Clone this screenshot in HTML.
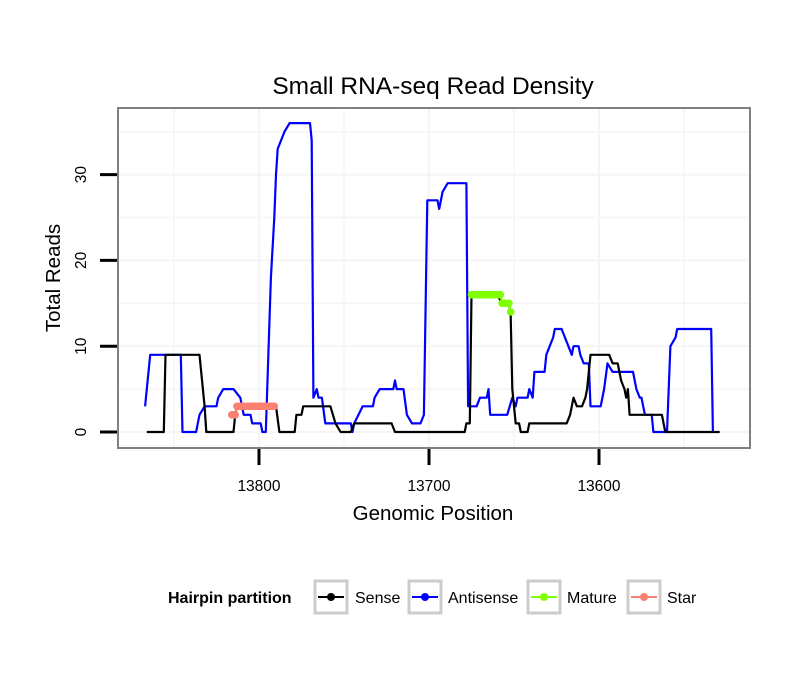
<!DOCTYPE html>
<html><head><meta charset="utf-8"><style>
body{margin:0;background:#fff;}
svg text{font-family:"Liberation Sans",sans-serif;}
</style></head><body>
<svg id="chart" width="810" height="690" xmlns="http://www.w3.org/2000/svg">
<rect width="810" height="690" fill="#fff"/>
<text x="433" y="94" font-size="24.5" text-anchor="middle">Small RNA-seq Read Density</text>
<g id="grid"></g>
<g id="series"></g>
<rect x="118" y="108" width="632" height="340" fill="none" stroke="#808080" stroke-width="2"/>
<g id="axes"></g>
<text x="433" y="520" font-size="20.5" text-anchor="middle">Genomic Position</text>
<text transform="translate(60,278) rotate(-90)" font-size="20.5" text-anchor="middle">Total Reads</text>
<g>
<text x="168" y="603" font-size="16" font-weight="bold">Hairpin partition</text>
<g><rect x="315" y="581" width="32" height="32" fill="#fff" stroke="#ccc" stroke-width="3"/><line x1="318" y1="597" x2="344" y2="597" stroke="#000" stroke-width="2"/><circle cx="331" cy="597" r="4" fill="#000"/><text x="355" y="603" font-size="16">Sense</text></g>
<g><rect x="409" y="581" width="32" height="32" fill="#fff" stroke="#ccc" stroke-width="3"/><line x1="412" y1="597" x2="438" y2="597" stroke="#0000ff" stroke-width="2"/><circle cx="425" cy="597" r="4" fill="#0000ff"/><text x="448" y="603" font-size="16">Antisense</text></g>
<g><rect x="528" y="581" width="32" height="32" fill="#fff" stroke="#ccc" stroke-width="3"/><line x1="531" y1="597" x2="557" y2="597" stroke="#7fff00" stroke-width="2"/><circle cx="544" cy="597" r="4" fill="#7fff00"/><text x="567" y="603" font-size="16">Mature</text></g>
<g><rect x="628" y="581" width="32" height="32" fill="#fff" stroke="#ccc" stroke-width="3"/><line x1="631" y1="597" x2="657" y2="597" stroke="#fa8072" stroke-width="2"/><circle cx="644" cy="597" r="4" fill="#fa8072"/><text x="667" y="603" font-size="16">Star</text></g>
</g>
</svg>
<script>
const xTicks=[13800,13700,13600];
const yTicks=[0,10,20,30];
const antisense=[[13867,3],[13866,5],[13864,9],[13846,9],[13845,0],[13837,0],[13835,2],[13832,3],[13825,3],[13824,4],[13821,5],[13815,5],[13811,4],[13809,2],[13805,2],[13804,1],[13799,1],[13798,0],[13796,0],[13793,18],[13791,25],[13790,30],[13789,33],[13785,35],[13782,36],[13770,36],[13769,34],[13768,4],[13766,5],[13765,4],[13763,4],[13761,1],[13746,1],[13745,0],[13744,1],[13739,3],[13733,3],[13732,4],[13729,5],[13721,5],[13720,6],[13719,5],[13715,5],[13713,2],[13710,1],[13705,1],[13703,2],[13701,27],[13695,27],[13694,26],[13692,28],[13689,29],[13678,29],[13677,3],[13672,3],[13670,4],[13666,4],[13665,5],[13664,2],[13654,2],[13651,4],[13649,3],[13648,4],[13642,4],[13641,5],[13639,4],[13638,7],[13632,7],[13631,9],[13629,10],[13627,11],[13626,12],[13622,12],[13620,11],[13618,10],[13616,9],[13615,10],[13612,10],[13611,9],[13609,8],[13606,8],[13605,3],[13599,3],[13597,5],[13595,8],[13592,7],[13580,7],[13578,5],[13576,4],[13575,4],[13573,2],[13569,2],[13568,0],[13560,0],[13558,10],[13555,11],[13554,12],[13534,12],[13533,0]];
const sense=[[13866,0],[13856,0],[13855,9],[13835,9],[13832,3],[13831,0],[13815,0],[13814,2],[13813,3],[13790,3],[13788,0],[13779,0],[13778,2],[13775,2],[13774,3],[13758,3],[13755,1],[13752,0],[13746,0],[13744,1],[13722,1],[13720,0],[13679,0],[13678,1],[13676,1],[13675,16],[13660,16],[13657,15],[13653,15],[13652,14],[13651,5],[13649,1],[13647,1],[13646,0],[13642,0],[13641,1],[13619,1],[13617,2],[13615,4],[13613,3],[13610,3],[13608,4],[13607,5],[13605,9],[13594,9],[13592,8],[13589,8],[13587,6],[13585,5],[13584,4],[13583,5],[13582,2],[13563,2],[13561,0],[13529,0]];
const maturePos=[13675,13674,13673,13672,13671,13670,13669,13668,13667,13666,13665,13664,13663,13662,13661,13660,13659,13658,13657,13656,13655,13654,13653,13652];
const matureVal=[16,16,16,16,16,16,16,16,16,16,16,16,16,16,16,16,16,16,15,15,15,15,15,14];
const starPos=[13816,13815,13814,13813,13812,13811,13810,13809,13808,13807,13806,13805,13804,13803,13802,13801,13800,13799,13798,13797,13796,13795,13794,13793,13792,13791];
const starVal=[2,2,2,3,3,3,3,3,3,3,3,3,3,3,3,3,3,3,3,3,3,3,3,3,3,3];

const NS='http://www.w3.org/2000/svg';
const X=p=>259+(13800-p)*1.7;
const Y=v=>432-v*8.58;
function mk(tag,attrs,parent){const e=document.createElementNS(NS,tag);for(const k in attrs)e.setAttribute(k,attrs[k]);parent.appendChild(e);return e;}
const grid=document.getElementById('grid'),axes=document.getElementById('axes'),ser=document.getElementById('series');
mk('rect',{x:118,y:108,width:632,height:340,fill:'#fff'},grid);
for(let v=-5;v<=40;v+=5){const y=Y(v);if(y<110||y>446)continue;const l=mk('line',{x1:119,x2:749,y1:y,y2:y,stroke:'#f5f5f5','stroke-width':v%10===0?2:1.5},grid);

}
for(let p=13900;p>=13450;p-=50){const x=X(p);if(x<120||x>748)continue;const l=mk('line',{x1:x,x2:x,y1:109,y2:447,stroke:'#f5f5f5','stroke-width':p%100===0?2:1.5},grid);

}
xTicks.forEach(t=>{const x=X(t);const l=mk('line',{x1:x,x2:x,y1:449,y2:465,stroke:'#000','stroke-width':3},axes);


const tx=mk('text',{x:x,y:491,'font-size':15.5,'text-anchor':'middle'},axes);tx.textContent=t;

});
yTicks.forEach(t=>{const y=Y(t);const l=mk('line',{x1:100,x2:117,y1:y,y2:y,stroke:'#000','stroke-width':3},axes);


const tx=mk('text',{transform:`translate(86,${y}) rotate(-90)`,'font-size':15.5,'text-anchor':'middle'},axes);tx.textContent=t;

});
function line(data,color,name){const d=data.map((q,i)=>(i?'L':'M')+X(q[0]).toFixed(1)+','+Y(q[1]).toFixed(1)).join('');const p=mk('path',{d:d,fill:'none',stroke:color,'stroke-width':2.2,'stroke-linejoin':'round'},ser);

}
line(antisense,'#0000ff','antisense-line');
line(sense,'#000','sense-line');
function pts(pos,val,color,name){const d=pos.map((p,i)=>(i?'L':'M')+X(p).toFixed(1)+','+Y(val[i]).toFixed(1)).join('');const pl=mk('path',{d:d,fill:'none',stroke:color,'stroke-width':2},ser);


pos.forEach((p,i)=>{const c=mk('circle',{cx:X(p),cy:Y(val[i]),r:3.8,fill:color},ser);

});}
pts(starPos,starVal,'#fa8072','star');
pts(maturePos,matureVal,'#7fff00','mature');
</script>
</body></html>
